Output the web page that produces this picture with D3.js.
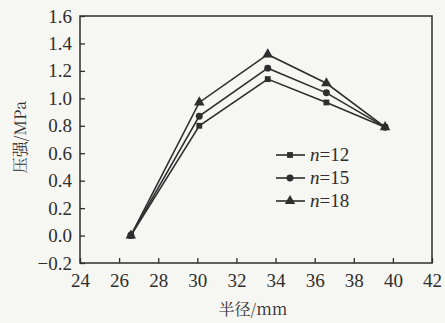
<!DOCTYPE html>
<html>
<head>
<meta charset="utf-8">
<script src="https://cdn.jsdelivr.net/npm/d3@7"></script>
<style>
  body { margin: 0; background: #f6f6f3; }
  svg { display: block; }
</style>
</head>
<body>
<svg id="chart" width="445" height="323"></svg>
<script>
// radius (mm) and pressure (MPa)
const radius = [26.6, 30.1, 33.6, 36.6, 39.6];
const n12 = [0.0, 0.80, 1.14, 0.97, 0.79];
const n15 = [0.0, 0.87, 1.22, 1.04, 0.79];
const n18 = [0.0, 0.97, 1.32, 1.11, 0.79];
const seriesNames = ['n=12', 'n=15', 'n=18'];
const xTicks = [24, 26, 28, 30, 32, 34, 36, 38, 40, 42];
const yTicks = [-0.2, 0.0, 0.2, 0.4, 0.6, 0.8, 1.0, 1.2, 1.4, 1.6];

const svg = d3.select('#chart');
const ink = '#2e2e2e';
const serif = 'Liberation Serif';
const cjk = 'Noto Serif CJK SC';
const plotLeft = 80, plotRight = 432, plotTop = 16, plotBottom = 263;

const x = d3.scaleLinear().domain([24, 42]).range([plotLeft, plotRight]);
const y = d3.scaleLinear().domain([-0.2, 1.6]).range([plotBottom, plotTop]);

// frame
svg.append('rect')
  .attr('x', plotLeft).attr('y', plotTop)
  .attr('width', plotRight - plotLeft).attr('height', plotBottom - plotTop)
  .attr('fill', 'none').attr('stroke', ink).attr('stroke-width', 1.5);

// axes with inward ticks
const xAxis = svg.append('g')
  .attr('transform', `translate(0,${plotBottom})`)
  .call(d3.axisBottom(x).tickValues(xTicks).tickSize(-5).tickPadding(10).tickFormat(d3.format('d')));
const yAxis = svg.append('g')
  .attr('transform', `translate(${plotLeft},0)`)
  .call(d3.axisLeft(y).tickValues(yTicks).tickSize(-5).tickPadding(8)
    .tickFormat(d => d < 0 ? '\u22120.2' : d3.format('.1f')(d)));
[xAxis, yAxis].forEach(g => {
  g.attr('font-family', null).attr('font-size', null);
  g.select('.domain').remove();
  g.selectAll('.tick line').attr('stroke', ink).attr('stroke-width', 1.3);
  g.selectAll('.tick text').attr('fill', ink)
    .attr('font-family', serif).attr('font-size', 19);
});
xAxis.selectAll('.tick text').attr('dy', '0.72em');

// axis titles
svg.append('text')
  .attr('x', 253).attr('y', 315)
  .attr('text-anchor', 'middle').attr('font-size', 16).attr('fill', ink)
  .attr('font-family', cjk)
  .text('半径/mm');
svg.append('text')
  .attr('transform', 'translate(26,137) rotate(-90)')
  .attr('text-anchor', 'middle').attr('font-size', 16).attr('fill', ink)
  .attr('font-family', cjk)
  .text('压强/MPa');

const symbols = [d3.symbolSquare, d3.symbolCircle, d3.symbolTriangle];
const sizes = [34, 38, 48];
const data = [n12, n15, n18];

const line = d3.line()
  .x((d, i) => x(radius[i]))
  .y(d => y(d));

data.forEach((vals, k) => {
  svg.append('path')
    .datum(vals)
    .attr('d', line)
    .attr('fill', 'none').attr('stroke', ink).attr('stroke-width', 1.6);
  svg.append('g').selectAll('path')
    .data(vals)
    .join('path')
    .attr('transform', (d, i) => `translate(${x(radius[i])},${y(d)})`)
    .attr('d', d3.symbol(symbols[k], sizes[k]))
    .attr('fill', ink);
});

// legend
const legend = svg.append('g');
seriesNames.forEach((name, k) => {
  const ly = 155 + k * 23;
  legend.append('line')
    .attr('x1', 276).attr('x2', 305).attr('y1', ly).attr('y2', ly)
    .attr('stroke', ink).attr('stroke-width', 1.6);
  legend.append('path')
    .attr('transform', `translate(290,${ly})`)
    .attr('d', d3.symbol(symbols[k], sizes[k]))
    .attr('fill', ink);
  const t = legend.append('text')
    .attr('x', 310).attr('y', ly + 6).attr('fill', ink)
    .attr('font-family', serif).attr('font-size', 19);
  t.append('tspan').attr('font-style', 'italic').text('n');
  t.append('tspan').text(name.slice(1));
});
</script>
</body>
</html>
